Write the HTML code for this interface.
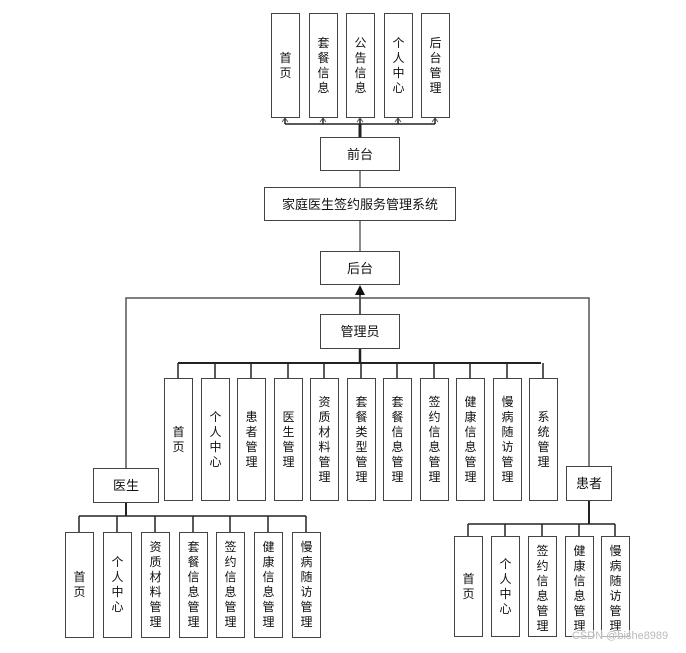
<!DOCTYPE html>
<html><head><meta charset="utf-8"><style>
body{margin:0;width:686px;height:653px;background:#fff;position:relative;overflow:hidden;font-family:"Liberation Sans","Noto Sans CJK SC",sans-serif;color:#111}
.b{position:absolute;box-sizing:border-box;border:1.5px solid #444;background:#fff;display:flex;align-items:center;justify-content:center;text-align:center;font-size:12px;line-height:15px}
.h{font-size:13px}
svg{position:absolute;left:0;top:0}
</style></head><body>
<svg width="686" height="653">
<g stroke="#222" stroke-width="1.5" fill="none">
<!-- top -->
<line x1="285" y1="124" x2="435" y2="124"/>
<line x1="360" y1="124" x2="360" y2="137" stroke-width="3"/>
<line x1="285" y1="118" x2="285" y2="124"/><line x1="323" y1="118" x2="323" y2="124"/><line x1="360" y1="118" x2="360" y2="124"/><line x1="398" y1="118" x2="398" y2="124"/><line x1="435" y1="118" x2="435" y2="124"/>
<line x1="360" y1="171" x2="360" y2="187" stroke="#666"/>
<line x1="360" y1="221" x2="360" y2="251" stroke="#666"/>
<!-- backend -->
<line x1="360" y1="290" x2="360" y2="314"/>
<path d="M126 468 V298 H589 V466" stroke="#555"/>
<line x1="178" y1="363" x2="541" y2="363" stroke-width="2"/>
<line x1="360" y1="349" x2="360" y2="363" stroke-width="2.5"/>
<line x1="178" y1="363" x2="178" y2="378"/><line x1="215" y1="363" x2="215" y2="378"/><line x1="251" y1="363" x2="251" y2="378"/><line x1="288" y1="363" x2="288" y2="378"/><line x1="324" y1="363" x2="324" y2="378"/><line x1="361" y1="363" x2="361" y2="378"/><line x1="397" y1="363" x2="397" y2="378"/><line x1="434" y1="363" x2="434" y2="378"/><line x1="470" y1="363" x2="470" y2="378"/><line x1="507" y1="363" x2="507" y2="378"/><line x1="543" y1="363" x2="543" y2="378"/>
<!-- doctor -->
<line x1="126" y1="503" x2="126" y2="516" stroke-width="2"/>
<line x1="79" y1="516" x2="306" y2="516"/>
<line x1="79" y1="516" x2="79" y2="532"/><line x1="117" y1="516" x2="117" y2="532"/><line x1="155" y1="516" x2="155" y2="532"/><line x1="193" y1="516" x2="193" y2="532"/><line x1="230" y1="516" x2="230" y2="532"/><line x1="268" y1="516" x2="268" y2="532"/><line x1="306" y1="516" x2="306" y2="532"/>
<!-- patient -->
<line x1="589" y1="501" x2="589" y2="524" stroke-width="2"/>
<line x1="468" y1="524" x2="615" y2="524"/>
<line x1="468" y1="524" x2="468" y2="536"/><line x1="505" y1="524" x2="505" y2="536"/><line x1="542" y1="524" x2="542" y2="536"/><line x1="579" y1="524" x2="579" y2="536"/><line x1="615" y1="524" x2="615" y2="536"/>
</g>
<polygon points="360,285 355,295 365,295" fill="#111"/>
<g fill="none" stroke="#555" stroke-width="1"><path d="M282 122 L285 118 L288 122"/><path d="M320 122 L323 118 L326 122"/><path d="M357 122 L360 118 L363 122"/><path d="M395 122 L398 118 L401 122"/><path d="M432 122 L435 118 L438 122"/></g>
</svg>

<div class="b" style="left:271px;top:13px;width:29px;height:105px">首<br>页</div>
<div class="b" style="left:309px;top:13px;width:29px;height:105px">套<br>餐<br>信<br>息</div>
<div class="b" style="left:346px;top:13px;width:29px;height:105px">公<br>告<br>信<br>息</div>
<div class="b" style="left:384px;top:13px;width:29px;height:105px">个<br>人<br>中<br>心</div>
<div class="b" style="left:421px;top:13px;width:29px;height:105px">后<br>台<br>管<br>理</div>

<div class="b h" style="left:320px;top:137px;width:80px;height:34px">前台</div>
<div class="b h" style="left:264px;top:187px;width:192px;height:34px">家庭医生签约服务管理系统</div>
<div class="b h" style="left:320px;top:251px;width:80px;height:34px">后台</div>
<div class="b h" style="left:320px;top:314px;width:80px;height:35px">管理员</div>

<div class="b" style="left:164px;top:378px;width:29px;height:123px">首<br>页</div>
<div class="b" style="left:201px;top:378px;width:29px;height:123px">个<br>人<br>中<br>心</div>
<div class="b" style="left:237px;top:378px;width:29px;height:123px">患<br>者<br>管<br>理</div>
<div class="b" style="left:274px;top:378px;width:29px;height:123px">医<br>生<br>管<br>理</div>
<div class="b" style="left:310px;top:378px;width:29px;height:123px">资<br>质<br>材<br>料<br>管<br>理</div>
<div class="b" style="left:347px;top:378px;width:29px;height:123px">套<br>餐<br>类<br>型<br>管<br>理</div>
<div class="b" style="left:383px;top:378px;width:29px;height:123px">套<br>餐<br>信<br>息<br>管<br>理</div>
<div class="b" style="left:420px;top:378px;width:29px;height:123px">签<br>约<br>信<br>息<br>管<br>理</div>
<div class="b" style="left:456px;top:378px;width:29px;height:123px">健<br>康<br>信<br>息<br>管<br>理</div>
<div class="b" style="left:493px;top:378px;width:29px;height:123px">慢<br>病<br>随<br>访<br>管<br>理</div>
<div class="b" style="left:529px;top:378px;width:29px;height:123px">系<br>统<br>管<br>理</div>

<div class="b h" style="left:93px;top:468px;width:66px;height:35px">医生</div>
<div class="b h" style="left:566px;top:466px;width:46px;height:35px">患者</div>

<div class="b" style="left:65px;top:532px;width:29px;height:106px">首<br>页</div>
<div class="b" style="left:103px;top:532px;width:29px;height:106px">个<br>人<br>中<br>心</div>
<div class="b" style="left:141px;top:532px;width:29px;height:106px">资<br>质<br>材<br>料<br>管<br>理</div>
<div class="b" style="left:179px;top:532px;width:29px;height:106px">套<br>餐<br>信<br>息<br>管<br>理</div>
<div class="b" style="left:216px;top:532px;width:29px;height:106px">签<br>约<br>信<br>息<br>管<br>理</div>
<div class="b" style="left:254px;top:532px;width:29px;height:106px">健<br>康<br>信<br>息<br>管<br>理</div>
<div class="b" style="left:292px;top:532px;width:29px;height:106px">慢<br>病<br>随<br>访<br>管<br>理</div>

<div class="b" style="left:454px;top:536px;width:29px;height:101px">首<br>页</div>
<div class="b" style="left:491px;top:536px;width:29px;height:101px">个<br>人<br>中<br>心</div>
<div class="b" style="left:528px;top:536px;width:29px;height:101px;align-items:flex-start;padding-top:7px;overflow:hidden">签<br>约<br>信<br>息<br>管<br>理</div>
<div class="b" style="left:565px;top:536px;width:29px;height:101px;align-items:flex-start;padding-top:7px;overflow:hidden">健<br>康<br>信<br>息<br>管<br>理</div>
<div class="b" style="left:601px;top:536px;width:29px;height:101px;align-items:flex-start;padding-top:7px;overflow:hidden">慢<br>病<br>随<br>访<br>管<br>理</div>
<div style="position:absolute;left:572px;top:630px;font-size:11px;color:#bbb;background:rgba(255,255,255,0.6)">CSDN @bishe8989</div>
</body></html>
